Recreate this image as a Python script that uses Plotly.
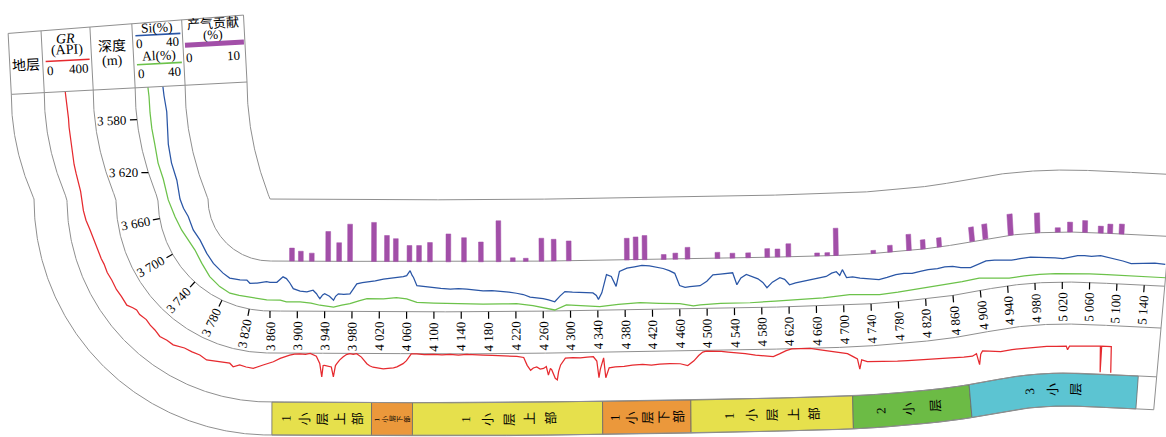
import numpy as np
import plotly.graph_objects as go

# ---------------------------------------------------------------- log data
tick_md = list(range(3580, 5141, 40))

gr_md = [3556, 3562, 3570, 3577, 3584, 3591, 3598, 3606, 3613, 3620, 3627, 3634, 3647, 3653,
         3659, 3666, 3673, 3679, 3683, 3689, 3695, 3702, 3708, 3712, 3715, 3719, 3722, 3726,
         3732, 3737, 3742, 3748, 3754, 3760, 3765, 3769, 3776, 3783, 3790, 3799, 3811, 3815,
         3821, 3828, 3836, 3848, 3856, 3865, 3875, 3884, 3889, 3896, 3904, 3912, 3919, 3928,
         3933, 3936, 3938, 3940, 3945, 3950, 3953, 3956, 3958, 3962, 3967, 3972, 3977, 3982,
         3987, 3994, 4002, 4006, 4011, 4018, 4026, 4033, 4041, 4046, 4050, 4055, 4060, 4064,
         4067, 4075, 4086, 4099, 4112, 4124, 4136, 4148, 4160, 4172, 4185, 4197, 4210, 4221,
         4231, 4236, 4241, 4245, 4250, 4255, 4260, 4264, 4267, 4270, 4272, 4277, 4280, 4282,
         4285, 4289, 4292, 4303, 4314, 4324, 4333, 4338, 4341, 4343, 4348, 4351, 4356, 4365,
         4378, 4390, 4405, 4418, 4430, 4445, 4460, 4471, 4480, 4487, 4493, 4498, 4509, 4520,
         4530, 4541, 4555, 4570, 4585, 4596, 4605, 4615, 4623, 4636, 4650, 4665, 4680, 4692,
         4704, 4712, 4718, 4721, 4724, 4732, 4745, 4760, 4775, 4790, 4813, 4830, 4850, 4868,
         4880, 4886, 4889, 4892, 4895, 4905, 4922, 4940, 4960, 4977, 4995, 5010, 5026, 5028,
         5031, 5050, 5065, 5079, 5080, 5081, 5096, 5097]
gr_api = [171, 179, 185, 187, 183, 180, 176, 169, 159, 153, 145, 137, 131, 145,
          166, 182, 189, 196, 202, 199, 206, 202, 207, 207, 202, 228, 241, 235,
          247, 237, 234, 219, 230, 228, 245, 255, 256, 261, 245, 260, 277, 255,
          280, 272, 268, 301, 315, 329, 357, 376, 384, 392, 395, 390, 398, 376,
          316, 207, 300, 302, 296, 288, 207, 300, 316, 345, 370, 390, 398, 392,
          398, 370, 316, 300, 288, 282, 275, 280, 283, 292, 302, 318, 343, 375,
          398, 398, 392, 396, 392, 396, 390, 395, 390, 389, 386, 384, 380, 376,
          367, 302, 261, 280, 288, 270, 275, 290, 220, 275, 262, 193, 180, 250,
          302, 340, 357, 360, 357, 362, 365, 330, 193, 261, 355, 192, 273, 280,
          282, 292, 298, 290, 298, 300, 298, 282, 320, 363, 390, 398, 398, 392,
          385, 381, 370, 355, 345, 339, 360, 385, 398, 396, 398, 385, 370, 360,
          347, 320, 300, 216, 290, 273, 268, 262, 258, 255, 253, 248, 240, 229,
          225, 240, 147, 230, 253, 240, 220, 222, 218, 220, 222, 218, 220, 190,
          220, 222, 225, 229, 16, 229, 229, 16]

si_md = [3556, 3563, 3575, 3587, 3599, 3613, 3626, 3640, 3652, 3664, 3684, 3702, 3724, 3742,
         3763, 3776, 3793, 3805, 3812, 3826, 3840, 3848, 3860, 3870, 3879, 3884, 3889, 3894,
         3904, 3914, 3923, 3928, 3931, 3933, 3937, 3940, 3947, 3953, 3956, 3960, 3968, 3977,
         3982, 3987, 3995, 4002, 4014, 4026, 4036, 4046, 4055, 4060, 4065, 4068, 4070, 4075,
         4086, 4099, 4110, 4124, 4136, 4148, 4160, 4172, 4185, 4197, 4210, 4221, 4231, 4241,
         4250, 4260, 4268, 4277, 4285, 4292, 4303, 4314, 4325, 4333, 4338, 4341, 4346, 4353,
         4360, 4367, 4372, 4383, 4394, 4405, 4416, 4426, 4436, 4445, 4453, 4460, 4468, 4475,
         4490, 4500, 4509, 4520, 4530, 4538, 4544, 4550, 4558, 4566, 4575, 4582, 4588, 4596,
         4607, 4614, 4621, 4630, 4640, 4655, 4665, 4675, 4683, 4690, 4695, 4699, 4705, 4714,
         4725, 4740, 4753, 4765, 4778, 4790, 4802, 4814, 4826, 4840, 4851, 4863, 4875, 4889,
         4900, 4912, 4924, 4936, 4948, 4960, 4975, 4987, 5000, 5010, 5021, 5031, 5042, 5052,
         5062, 5075, 5085, 5094, 5107, 5119, 5130, 5142, 5153, 5168]
si_pct = [22.2, 23, 24.4, 23.6, 21.8, 20.7, 20.7, 17.6, 20, 22.7, 23.4, 24.7, 22.9, 21,
          19.4, 18.6, 20.5, 22.2, 20.3, 21.5, 22.7, 23.4, 23, 23, 27.4, 26, 22.5, 18,
          16, 15.4, 16.8, 14, 11.4, 10, 13, 14, 12, 8.8, 12, 14, 13.5, 14,
          18, 22, 23, 23.4, 24.5, 26, 26.5, 27.4, 28, 28.8, 32.8, 29, 27.4, 20.8,
          20, 19.4, 18.8, 18.2, 18.6, 18.2, 17.5, 16.8, 17, 16.5, 15.5, 14.6, 13.5, 11.4,
          11, 10, 9, 7.4, 12, 15.4, 14.8, 14.6, 14.2, 14, 12, 8.8, 14, 28.5,
          27, 19, 31, 33.5, 34.5, 35.5, 35, 34, 32.8, 31, 28.8, 19, 17.5, 18,
          18.6, 22, 27, 27.5, 28, 28.3, 18.7, 24, 26.7, 25, 23, 20, 15.7, 20,
          23.4, 22, 17.6, 19, 20, 21.2, 22, 23.5, 26, 27, 24, 28.5, 22, 22.4,
          21, 20, 18.8, 20, 21.6, 22, 21.5, 22.5, 23.2, 23, 23.6, 23, 21, 19.6,
          21, 22.5, 22, 21, 20, 20.5, 21, 20.4, 20, 19.5, 18.8, 20, 21.2, 21.5,
          21, 22, 21, 20, 18.5, 16.8, 17, 17.5, 18, 17.5]

al_md = [3556, 3563, 3575, 3587, 3599, 3613, 3625, 3641, 3661, 3679, 3694, 3710, 3730, 3750,
         3769, 3786, 3800, 3817, 3850, 3875, 3884, 3904, 3920, 3933, 3953, 3965, 3977, 3990,
         4002, 4026, 4045, 4060, 4075, 4100, 4124, 4150, 4172, 4200, 4221, 4245, 4265, 4277,
         4294, 4315, 4338, 4343, 4370, 4402, 4430, 4460, 4480, 4490, 4520, 4563, 4600, 4636,
         4670, 4709, 4730, 4753, 4780, 4801, 4830, 4851, 4875, 4900, 4920, 4943, 4965, 4987,
         5010, 5036, 5060, 5085, 5110, 5134, 5156, 5170]
al_pct = [10.2, 11, 11, 10.9, 11, 10, 10.2, 8.2, 12.3, 14.7, 16.5, 17, 14.6, 11,
          8.8, 7.7, 8.6, 9.5, 8.8, 8.8, 7.4, 7.4, 6.5, 4.8, 3.4, 5, 6.2, 8.5,
          10.2, 10.2, 11.2, 10.2, 7.4, 7, 6.6, 6.4, 6.2, 6.2, 6.2, 4.5, 2.5, 0.8,
          4.8, 4, 3.4, 3, 4.5, 5.8, 5, 4.5, 2.5, 3.2, 4, 4, 4.8, 5.4,
          6.5, 8.2, 7.5, 6.8, 7.6, 8.4, 8.8, 9.2, 9.6, 10, 8, 6, 6.5, 6.8,
          6.8, 6.8, 7, 7, 6.9, 6.8, 6.8, 6.8]

gas_md = [3892, 3905, 3921, 3945, 3961, 3977, 4012, 4031, 4044, 4064, 4078, 4094, 4121, 4144,
          4169, 4195, 4216, 4235, 4258, 4276, 4298, 4383, 4396, 4409, 4437, 4454, 4472, 4516,
          4538, 4561, 4589, 4604, 4620, 4662, 4677, 4690, 4746, 4771, 4799, 4820, 4845, 4895,
          4914, 4949, 4986, 5014, 5031, 5052, 5074, 5087, 5103]
gas_pct = [2.1, 1.6, 1.3, 4.8, 3.0, 6.0, 6.3, 4.2, 3.7, 2.6, 2.6, 3.1, 4.5, 3.9,
           3.2, 6.6, 0.6, 0.5, 3.7, 3.5, 3.2, 3.5, 3.7, 3.9, 0.8, 1.0, 1.9, 1.0,
           0.8, 0.8, 1.4, 1.3, 2.1, 0.5, 0.5, 4.4, 0.5, 1.1, 2.6, 1.5, 1.5, 2.3,
           2.4, 3.4, 3.2, 0.7, 1.6, 1.9, 1.1, 1.5, 1.6]

zone_top = [3863, 4009, 4069, 4346, 4475, 4710, 4872]
zone_base = [4009, 4069, 4346, 4475, 4710, 4872, 5141]
zone_name = ["1小层上部", "1小层下部", "1小层上部", "1小层下部", "1小层上部", "2小层", "3小层"]
zone_color = ["#e6e04c", "#eb983b", "#e6e04c", "#eb983b", "#e6e04c", "#6cbb45", "#5cc4d2"]

# ---------------------------------------------------------------- track geometry
MD_TOP, MD_BEND0, MD_BEND1, MD_END = 3556.0, 3640.0, 3860.0, 5170.0
EDGES = [0.0, 62.0, 112.0, 154.0, 203.0, 236.0]   # gas | Si-Al | depth | GR | zone
R_REF = 112.0
LAT_SCALE = 0.683
KNOT_X = [250, 270, 480, 700, 860, 950, 1005, 1060, 1200]
KNOT_Y = [311, 311, 312, 309, 305, 297, 285, 281, 288]

_gx = np.linspace(250, 1200, 1901)
_gy = np.interp(_gx, KNOT_X, KNOT_Y)
_k = np.exp(-0.5 * (np.arange(-120, 121) / 44.0) ** 2)
_k /= _k.sum()
_gy = np.convolve(np.pad(_gy, 120, mode="edge"), _k, mode="valid")
_gs = np.gradient(_gy, _gx)


def frame(md):
    md = np.atleast_1d(np.asarray(md, float))
    cx = np.empty_like(md); cy = np.empty_like(md); phi = np.empty_like(md)
    a = md < MD_BEND0
    t = (md[a] - MD_TOP) / (MD_BEND0 - MD_TOP)
    ph = np.radians(177 + 3 * t)
    cx[a] = 247 + 23 * t ** 2 + R_REF * np.cos(ph)
    cy[a] = 82 + 117 * t + R_REF * np.sin(ph)
    phi[a] = ph
    b = (md >= MD_BEND0) & (md < MD_BEND1)
    t = (md[b] - MD_BEND0) / (MD_BEND1 - MD_BEND0)
    ph = np.radians(180 - 90 * (1 - (1 - t) ** 1.25))
    cx[b] = 270 + R_REF * np.cos(ph)
    cy[b] = 199 + R_REF * np.sin(ph)
    phi[b] = ph
    c = md >= MD_BEND1
    x = 270 + (md[c] - MD_BEND1) * LAT_SCALE
    cx[c] = x
    cy[c] = np.interp(x, _gx, _gy)
    tilt = 0.5 * np.arctan(np.interp(x, _gx, _gs))
    # the log sheet leans a little more towards its far end
    tilt += np.radians(4.0) * np.clip((x - 1090) / 80.0, 0, 1)
    phi[c] = np.pi / 2 + tilt
    return cx, cy, phi


def place(md, r):
    cx, cy, phi = frame(md)
    r = np.asarray(r, float)
    return cx + (r - R_REF) * np.cos(phi), cy + (r - R_REF) * np.sin(phi)


def angle_of(md):
    _, _, phi = frame(md)
    return float(np.degrees(phi[0]) - 180.0)


def dense(a, b, step=1.0):
    n = max(2, int(abs(b - a) / step) + 1)
    return np.linspace(a, b, n)


SERIF = "Liberation Serif, Times New Roman, serif"
CJK = "Noto Sans CJK SC, sans-serif"
GRID = "#8f8f8f"

fig = go.Figure()
ann = []


def add_line(x, y, color=GRID, width=1.0):
    fig.add_trace(go.Scatter(x=list(x), y=list(y), mode="lines",
                             line=dict(color=color, width=width), hoverinfo="skip"))


def label(x, y, text, size=12, angle=0.0, family=SERIF, color="black"):
    ann.append(dict(x=float(x), y=float(y), xref="x", yref="y", text=text, showarrow=False,
                    textangle=angle, font=dict(family=family, size=size, color=color),
                    xanchor="center", yanchor="middle"))


# ---------------------------------------------------------------- zone boxes
for top, base, name, col in zip(zone_top, zone_base, zone_name, zone_color):
    m = dense(top, base, 2.0)
    xo, yo = place(m, EDGES[5])
    xi, yi = place(m[::-1], EDGES[4])
    px = np.concatenate([xo, xi, xo[:1]])
    py = np.concatenate([yo, yi, yo[:1]])
    fig.add_trace(go.Scatter(x=px, y=py, mode="lines", fill="toself", fillcolor=col,
                             line=dict(color="#6a6a6a", width=0.8), hoverinfo="skip"))
    n = len(name)
    length_px = (base - top) * LAT_SCALE
    cap = 21 if n >= 5 else 26
    sp = min(length_px / (n + 0.6), cap)
    fs = min(13, 0.95 * sp)
    mid = 0.5 * (top + base) - (4.0 if n < 5 else 0.0)
    for k, ch in enumerate(name):
        mk = mid + (k - (n - 1) / 2) * sp / LAT_SCALE
        xx, yy = place(mk, 0.5 * (EDGES[4] + EDGES[5]))
        label(xx[0], yy[0], ch, size=fs, angle=angle_of(mk),
              family=SERIF if ch.isdigit() else CJK)

# ---------------------------------------------------------------- track boundaries
m_all = dense(MD_TOP, MD_END, 1.0)
for r in EDGES:
    x, y = place(m_all, r)
    add_line(x, y)
xe, ye = place(np.full(2, MD_END), [EDGES[0], EDGES[-1]])
add_line(xe, ye)

# ---------------------------------------------------------------- gas contribution bars
bx, by = [], []
half = 3.5
for md, v in zip(gas_md, gas_pct):
    h = v / 10.0 * (EDGES[1] - EDGES[0])
    ms = [md - half, md + half, md + half, md - half, md - half]
    rs = [EDGES[1], EDGES[1], EDGES[1] - h, EDGES[1] - h, EDGES[1]]
    x, y = place(ms, rs)
    bx += list(x) + [None]
    by += list(y) + [None]
fig.add_trace(go.Scatter(x=bx, y=by, mode="lines", fill="toself", fillcolor="#a24fa8",
                         line=dict(color="#a24fa8", width=0.5), hoverinfo="skip"))

# ---------------------------------------------------------------- curves
def curve(md, vals, vmax, r0, r1, color):
    r = r0 + (np.asarray(vals, float) / vmax) * (r1 - r0)
    x, y = place(md, r)
    add_line(x, y, color=color, width=1.25)


curve(gr_md, gr_api, 400.0, EDGES[4], EDGES[3], "#e62a2f")
curve(al_md, al_pct, 40.0, EDGES[2], EDGES[1], "#6cc24a")
curve(si_md, si_pct, 40.0, EDGES[2], EDGES[1], "#2a56a6")

# ---------------------------------------------------------------- depth ticks
for md in tick_md:
    x, y = place([md, md], [EDGES[2], EDGES[2] + 7])
    add_line(x, y, color="black", width=1.2)
    lx, ly = place(md, 137)
    label(lx[0], ly[0], f"{md // 1000} {md % 1000:03d}", size=13, angle=angle_of(md))

# ---------------------------------------------------------------- header block
ox, oy = place(MD_TOP, EDGES[5])
ix, iy = place(MD_TOP, EDGES[0])
W = EDGES[5] - EDGES[0]
e1 = np.array([ix[0] - ox[0], iy[0] - oy[0]]) / W
e2 = np.array([e1[1], -e1[0]])
O = np.array([ox[0], oy[0]])
H_ANG = float(np.degrees(np.arctan2(e1[1], e1[0])))


def H(a, b):
    p = O + a * e1 + b * e2
    return p[0], p[1]


def top_b(a):
    return 61 + 6 * a / W


pts = [H(0, 0), H(W, 0), H(W, top_b(W)), H(0, top_b(0)), H(0, 0)]
add_line([p[0] for p in pts], [p[1] for p in pts])
for r in EDGES[1:-1]:
    a = W - r
    p0, p1 = H(a, 0), H(a, top_b(a))
    add_line([p0[0], p1[0]], [p0[1], p1[1]])


def hline(a0, a1, b, color, width):
    p0, p1 = H(a0, b), H(a1, b)
    add_line([p0[0], p1[0]], [p0[1], p1[1]], color=color, width=width)


def htext(a, b, text, size=12.5, family=SERIF):
    x, y = H(a, b)
    label(x, y, text, size=size, angle=H_ANG, family=family)


# zone column
htext(16.5, 30, "地层", 14, CJK)
# GR column
htext(57.5, 53, "<i>GR</i>", 14)
htext(57.5, 41, "(API)", 14)
hline(36, 80, 31, "#e62a2f", 1.6)
htext(40, 22, "0", 13)
htext(69, 22, "400", 13)
# depth column
htext(103, 44, "深度", 14, CJK)
htext(103, 28, "(m)", 14)
# Si / Al column
htext(149, 59, "Si(%)", 13.5)
hline(127, 172, 52, "#2a56a6", 1.6)
htext(131, 44, "0", 13)
htext(164, 44, "40", 13)
htext(149, 31, "Al(%)", 13.5)
hline(127, 172, 23, "#6cc24a", 1.6)
htext(131, 14, "0", 13)
htext(164, 14, "40", 13)
# gas contribution column
htext(205, 61, "产气贡献", 13, CJK)
htext(205, 49, "(%)", 13)
hline(176, 235, 40, "#a24fa8", 5)
htext(180, 27, "0", 13)
htext(224, 27, "10", 13)

fig.update_layout(
    width=1166, height=437, margin=dict(l=0, r=0, t=0, b=0),
    paper_bgcolor="white", plot_bgcolor="white", showlegend=False,
    xaxis=dict(range=[0, 1166], visible=False, fixedrange=True),
    yaxis=dict(range=[437, 0], visible=False, fixedrange=True),
    annotations=ann,
)
fig.write_html("out.html")
